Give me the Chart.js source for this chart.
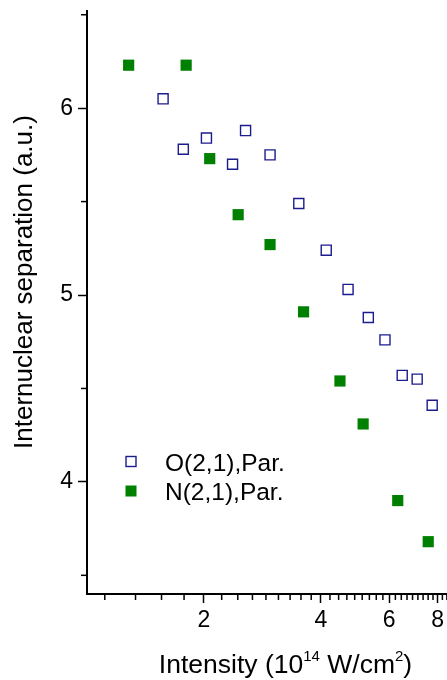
<!DOCTYPE html>
<html><head><meta charset="utf-8">
<script src="https://cdn.jsdelivr.net/npm/chart.js@4.4.1/dist/chart.umd.min.js"></script>
<style>html,body{margin:0;padding:0;background:#fff}canvas{display:block}</style>
</head><body>
<canvas id="c" width="447" height="680"></canvas>
<script>
// ---- data ----
const oIntensity  = [1.57, 1.77, 2.03, 2.37, 2.56, 2.96, 3.51, 4.13, 4.70, 5.30, 5.85, 6.48, 7.08, 7.74];
const oSeparation = [6.05, 5.78, 5.84, 5.70, 5.88, 5.75, 5.49, 5.24, 5.03, 4.88, 4.76, 4.57, 4.55, 4.41];
const nIntensity  = [1.28, 1.80, 2.07, 2.45, 2.96, 3.61, 4.48, 5.14, 6.31, 7.56];
const nSeparation = [6.23, 6.23, 5.73, 5.43, 5.27, 4.91, 4.54, 4.31, 3.90, 3.68];
const seriesNames = ['O(2,1),Par.', 'N(2,1),Par.'];
const xMajorTicks = [2, 4, 6, 8];
const yMajorTicks = [4, 5, 6];
const yMinorTicks = [3.5, 4.5, 5.5, 6.5];
const xMinorTicks = [];
for (let m = 5; m <= 38; m++) { if (m % 9 !== 0) xMinorTicks.push(2 * m / 9); }
const yTitle = 'Internuclear separation (a.u.)';
const xTitleParts = [['Intensity (10', false], ['14', true], [' W/cm', false], ['2', true], [')', false]];

const FAM = '"Liberation Sans", Arial, Helvetica, sans-serif';

function zeroPad(s) { s.paddingLeft = 0; s.paddingRight = 0; s.paddingTop = 0; s.paddingBottom = 0; }

const decor = {
  id: 'decor',
  afterDraw(chart) {
    const ctx = chart.ctx, xs = chart.scales.x, ys = chart.scales.y, ca = chart.chartArea;
    ctx.save();
    ctx.strokeStyle = '#000';
    ctx.lineWidth = 1.5;
    // minor ticks
    xMinorTicks.forEach(v => {
      if (v < xs.min || v > xs.max) return;
      const p = xs.getPixelForValue(v);
      ctx.beginPath(); ctx.moveTo(p, ca.bottom); ctx.lineTo(p, ca.bottom + 6); ctx.stroke();
    });
    yMinorTicks.forEach(v => {
      if (v < ys.min || v > ys.max) return;
      const p = ys.getPixelForValue(v);
      ctx.beginPath(); ctx.moveTo(ca.left, p); ctx.lineTo(ca.left - 6, p); ctx.stroke();
    });
    // axis titles
    ctx.fillStyle = '#000';
    ctx.textBaseline = 'alphabetic';
    ctx.save();
    ctx.translate(31.5, 282);
    ctx.rotate(-Math.PI / 2);
    ctx.textAlign = 'center';
    ctx.font = '26px ' + FAM;
    ctx.fillText(yTitle, 0, 0);
    ctx.restore();
    const big = '26.5px ' + FAM, small = '15px ' + FAM;
    let total = 0;
    xTitleParts.forEach(([t, sup]) => { ctx.font = sup ? small : big; total += ctx.measureText(t).width; });
    let x = 285.5 - total / 2;
    ctx.textAlign = 'left';
    xTitleParts.forEach(([t, sup]) => {
      ctx.font = sup ? small : big;
      ctx.fillText(t, x, sup ? 661 : 673);
      x += ctx.measureText(t).width;
    });
    // legend
    const ds = chart.data.datasets;
    const rows = [461.5, 491];
    ds.forEach((d, i) => {
      const cy = rows[i];
      if (i === 0) {
        ctx.strokeStyle = d.borderColor; ctx.lineWidth = d.borderWidth;
        ctx.strokeRect(131 - 5, cy - 5, 10, 10);
      } else {
        ctx.fillStyle = d.backgroundColor;
        ctx.fillRect(131 - 5.5, cy - 5.5, 11, 11);
      }
      ctx.fillStyle = '#000';
      ctx.font = '24.5px ' + FAM;
      ctx.textAlign = 'left';
      ctx.fillText(d.label, 165, cy + 9);
    });
    ctx.restore();
  }
};

new Chart(document.getElementById('c'), {
  type: 'scatter',
  data: {
    datasets: [
      { label: seriesNames[0], data: oIntensity.map((x, i) => ({ x, y: oSeparation[i] })),
        pointStyle: 'rect', pointRadius: 7.1, borderColor: '#1c1c90', borderWidth: 1.4,
        backgroundColor: 'rgba(255,255,255,0)' },
      { label: seriesNames[1], data: nIntensity.map((x, i) => ({ x, y: nSeparation[i] })),
        pointStyle: 'rect', pointRadius: 7.9, borderColor: '#008000', borderWidth: 0,
        backgroundColor: '#008000' }
    ]
  },
  options: {
    responsive: false, animation: false,
    layout: { autoPadding: false, padding: { top: 11, left: 0, right: 0, bottom: 0 } },
    plugins: { legend: { display: false }, tooltip: { enabled: false } },
    scales: {
      x: {
        type: 'logarithmic', min: 1, max: 8.45,
        afterFit(s) { s.height = 86; zeroPad(s); },
        afterBuildTicks(s) { s.ticks = xMajorTicks.map(v => ({ value: v })); },
        ticks: { autoSkip: false, maxRotation: 0, padding: 4, color: '#000',
          font: { family: FAM, size: 23 }, callback: v => String(v) },
        grid: { drawOnChartArea: false, drawTicks: true, tickLength: 9, tickColor: '#000', tickWidth: 1.5 },
        border: { display: true, color: '#000', width: 2 }
      },
      y: {
        type: 'linear', min: 3.4, max: 6.52,
        afterFit(s) { s.width = 87; zeroPad(s); },
        afterBuildTicks(s) { s.ticks = yMajorTicks.map(v => ({ value: v })); },
        ticks: { padding: 5, color: '#000', font: { family: FAM, size: 23 }, callback: v => String(v) },
        grid: { drawOnChartArea: false, drawTicks: true, tickLength: 9, tickColor: '#000', tickWidth: 1.5 },
        border: { display: true, color: '#000', width: 2 }
      }
    }
  },
  plugins: [decor]
});
</script>
</body></html>
